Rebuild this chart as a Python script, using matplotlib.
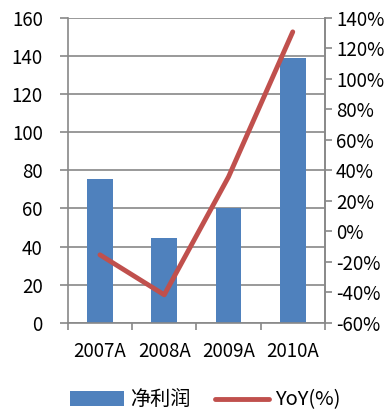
import matplotlib.pyplot as plt
import numpy as np
from matplotlib.ticker import FuncFormatter

categories = ["2007A", "2008A", "2009A", "2010A"]
net_profit = [75.5, 44.6, 60.3, 139.0]
yoy = [-15.4, -41.6, 35.7, 130.8]

plt.rcParams['font.family'] = ['Noto Sans CJK SC', 'DejaVu Sans']
grey = "#888888"
fs = 13.5

fig = plt.figure(figsize=(3.9, 4.15), dpi=100)
ax = fig.add_axes([0.174, 0.222, 0.659, 0.735])
x = np.arange(len(categories))
bars = ax.bar(x, net_profit, width=0.4, color="#4F81BD", zorder=2, label="净利润")
ax.set_xlim(-0.5, 3.5)
ax.set_ylim(0, 160)
ax.set_yticks(np.arange(0, 161, 20))
ax.grid(axis='y', color=grey, linewidth=1.2, zorder=0)
ax.set_xticks(x)
ax.set_xticklabels(categories, fontsize=fs)
ax.set_xticks(np.arange(-0.5, 4, 1), minor=True)
ax.tick_params(axis='x', which='major', length=0, pad=13)
ax.tick_params(axis='x', which='minor', length=5, color=grey, width=1.2)
ax.tick_params(axis='y', labelsize=fs, length=6, color=grey, width=1.2, pad=12)
ax.spines['top'].set_visible(False)
for s in ['left', 'bottom', 'right']:
    ax.spines[s].set_color(grey)
    ax.spines[s].set_linewidth(1.2)

ax2 = ax.twinx()
line, = ax2.plot(x, yoy, color="#C0504D", linewidth=3.5, solid_capstyle='round', zorder=3, label="YoY(%)")
ax2.set_ylim(-60, 140)
ax2.set_yticks(np.arange(-60, 141, 20))
ax2.yaxis.set_major_formatter(FuncFormatter(lambda v, p: f"{int(v)}%"))
ax2.tick_params(axis='y', labelsize=fs, length=5, color=grey, width=1.2, pad=3)
for s in ['top', 'left', 'bottom']:
    ax2.spines[s].set_visible(False)
ax2.spines['right'].set_color(grey)
ax2.spines['right'].set_linewidth(1.2)

fig.legend([bars, line], ["净利润", "YoY(%)"], loc='center', bbox_to_anchor=(0.527, 0.036),
           ncol=2, frameon=False, fontsize=14.5, handlelength=2.7, handleheight=0.7,
           columnspacing=1.2, handletextpad=0.3)

fig.savefig("out.png", dpi=100)
